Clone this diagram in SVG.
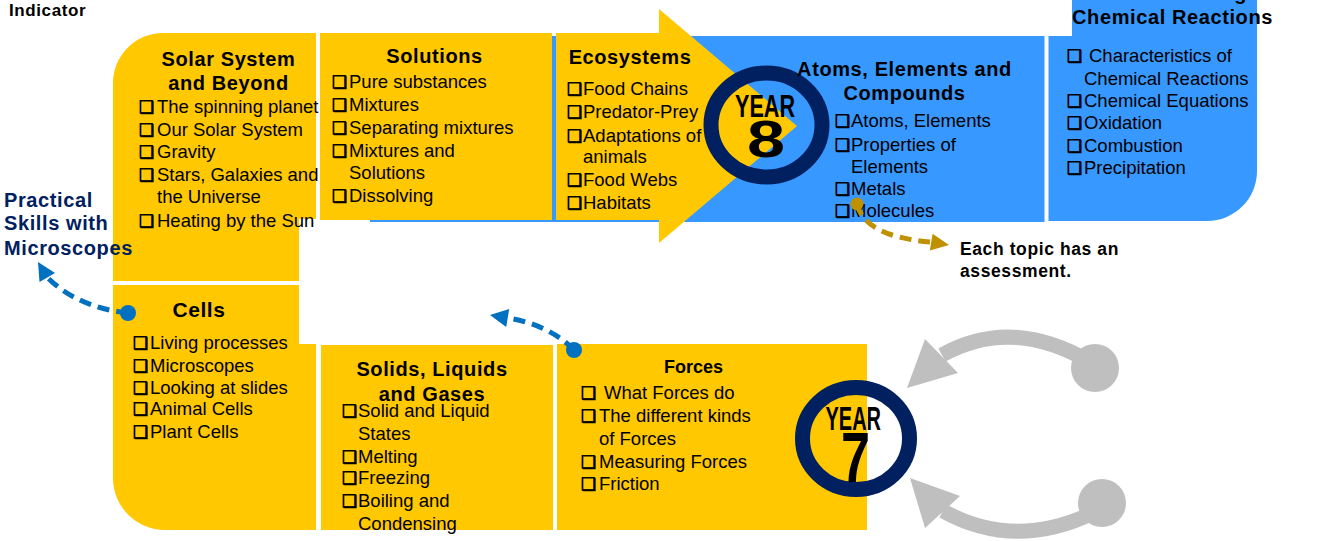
<svg xmlns="http://www.w3.org/2000/svg" width="1333" height="541" viewBox="0 0 1333 541">
<defs>
<style>
.y{fill:#FFC800}
.b{fill:#3799FF}
.t{font-family:"Liberation Sans",Arial,sans-serif;font-weight:bold;font-size:20px;letter-spacing:0.6px;fill:#000;text-anchor:middle}
.i{font-family:"Liberation Sans",Arial,sans-serif;font-size:18.5px;fill:#000}
.cb{font-family:"DejaVu Sans",sans-serif;font-size:17px;font-weight:bold;stroke:#000;stroke-width:0.8px}
.lbl{font-family:"Liberation Sans",Arial,sans-serif;font-weight:bold;font-size:17.5px;letter-spacing:0.6px;fill:#000}
.pr{font-family:"Liberation Sans",Arial,sans-serif;font-weight:bold;font-size:20px;letter-spacing:0.6px;fill:#002060}
.ring{fill:none;stroke:#002060;stroke-width:15}
.yr{font-family:"Liberation Sans",Arial,sans-serif;fill:#000}
.dash{fill:none;stroke-width:5;stroke-dasharray:12 7}
.gray{fill:none;stroke:#BFBFBF;stroke-width:15}
</style>
</defs>
<rect width="1333" height="541" fill="#fff"/>
<text class="lbl" x="9" y="16" style="font-size:17px">Indicator</text>

<g id="bg-blue">
<rect class="b" x="370" y="36" width="674.5" height="186"/>
</g>

<g id="chem">
<path class="b" d="M1072,0 H1257 V171 A50,50 0 0 1 1207,221 H1048.5 V36 H1072 Z"/>
<text class="t" x="1172.5" y="-0.5">Understanding</text>
<text class="t" x="1172.5" y="24">Chemical Reactions</text>
<text class="i" x="1067" y="62"><tspan class="cb">❑</tspan><tspan x="1089">Characteristics of</tspan></text>
<text class="i" x="1084" y="85">Chemical Reactions</text>
<text class="i" x="1067" y="107"><tspan class="cb">❑</tspan><tspan x="1084">Chemical Equations</tspan></text>
<text class="i" x="1067" y="129"><tspan class="cb">❑</tspan><tspan x="1084">Oxidation</tspan></text>
<text class="i" x="1067" y="152"><tspan class="cb">❑</tspan><tspan x="1084">Combustion</tspan></text>
<text class="i" x="1067" y="174"><tspan class="cb">❑</tspan><tspan x="1084">Precipitation</tspan></text>
</g>

<g id="solar">
<path class="y" d="M113,83 A50,50 0 0 1 163,33 H316 V219 H299 V281 H113 Z"/>
<text class="t" x="228.5" y="66">Solar System</text>
<text class="t" x="228.5" y="90">and Beyond</text>
<text class="i" x="139" y="113"><tspan class="cb">❑</tspan><tspan x="157">The spinning planet</tspan></text>
<text class="i" x="139" y="136"><tspan class="cb">❑</tspan><tspan x="157">Our Solar System</tspan></text>
<text class="i" x="139" y="158"><tspan class="cb">❑</tspan><tspan x="157">Gravity</tspan></text>
<text class="i" x="139" y="181"><tspan class="cb">❑</tspan><tspan x="157">Stars, Galaxies and</tspan></text>
<text class="i" x="157" y="203">the Universe</text>
<text class="i" x="139" y="227"><tspan class="cb">❑</tspan><tspan x="157">Heating by the Sun</tspan></text>
</g>

<g id="solutions">
<rect class="y" x="320" y="33" width="232" height="187"/>
<text class="t" x="434.5" y="63">Solutions</text>
<text class="i" x="332" y="88"><tspan class="cb">❑</tspan><tspan x="349">Pure substances</tspan></text>
<text class="i" x="332" y="111"><tspan class="cb">❑</tspan><tspan x="349">Mixtures</tspan></text>
<text class="i" x="332" y="134"><tspan class="cb">❑</tspan><tspan x="349">Separating mixtures</tspan></text>
<text class="i" x="332" y="157"><tspan class="cb">❑</tspan><tspan x="349">Mixtures and</tspan></text>
<text class="i" x="349" y="179">Solutions</text>
<text class="i" x="332" y="202"><tspan class="cb">❑</tspan><tspan x="349">Dissolving</tspan></text>
</g>

<g id="ecosystems">
<path class="y" d="M556,33 H659 V9 L797,126 L659,243 V220 H556 Z"/>
<text class="t" x="630" y="64">Ecosystems</text>
<text class="i" x="567" y="95"><tspan class="cb">❑</tspan><tspan x="583">Food Chains</tspan></text>
<text class="i" x="567" y="118"><tspan class="cb">❑</tspan><tspan x="583">Predator-Prey</tspan></text>
<text class="i" x="567" y="142"><tspan class="cb">❑</tspan><tspan x="583">Adaptations of</tspan></text>
<text class="i" x="583" y="163">animals</text>
<text class="i" x="567" y="186"><tspan class="cb">❑</tspan><tspan x="583">Food Webs</tspan></text>
<text class="i" x="567" y="209"><tspan class="cb">❑</tspan><tspan x="583">Habitats</tspan></text>
</g>

<g id="year8">
<ellipse class="ring" cx="766.5" cy="125" rx="55.5" ry="52"/>
<text class="yr" x="735" y="117" font-size="31" font-weight="bold" textLength="60" lengthAdjust="spacingAndGlyphs">YEAR</text>
<text class="yr" x="747" y="157" font-size="52" font-weight="bold" textLength="38" lengthAdjust="spacingAndGlyphs">8</text>
</g>

<g id="atoms">
<text class="t" x="904.5" y="76">Atoms, Elements and</text>
<text class="t" x="904.5" y="100">Compounds</text>
<text class="i" x="835" y="127"><tspan class="cb">❑</tspan><tspan x="851">Atoms, Elements</tspan></text>
<text class="i" x="835" y="151"><tspan class="cb">❑</tspan><tspan x="851">Properties of</tspan></text>
<text class="i" x="851" y="173">Elements</text>
<text class="i" x="835" y="195"><tspan class="cb">❑</tspan><tspan x="851">Metals</tspan></text>
<text class="i" x="835" y="217"><tspan class="cb">❑</tspan><tspan x="851">Molecules</tspan></text>
</g>

<g id="assessment-note">
<text class="lbl" x="960" y="255">Each topic has an</text>
<text class="lbl" x="960" y="277">assessment.</text>
</g>

<g id="practical">
<text class="pr" x="4" y="207">Practical</text>
<text class="pr" x="4" y="230">Skills with</text>
<text class="pr" x="4" y="255">Microscopes</text>
</g>

<g id="cells">
<path class="y" d="M113,285 H299 V344 H316 V530 H165 A52,52 0 0 1 113,478 Z"/>
<text class="t" x="199" y="317" style="font-size:21px">Cells</text>
<text class="i" x="133" y="349"><tspan class="cb">❑</tspan><tspan x="150">Living processes</tspan></text>
<text class="i" x="133" y="372"><tspan class="cb">❑</tspan><tspan x="150">Microscopes</tspan></text>
<text class="i" x="133" y="394"><tspan class="cb">❑</tspan><tspan x="150">Looking at slides</tspan></text>
<text class="i" x="133" y="415"><tspan class="cb">❑</tspan><tspan x="150">Animal Cells</tspan></text>
<text class="i" x="133" y="438"><tspan class="cb">❑</tspan><tspan x="150">Plant Cells</tspan></text>
</g>

<g id="solids">
<rect class="y" x="321" y="345" width="232" height="185"/>
<text class="t" x="432" y="376">Solids, Liquids</text>
<text class="t" x="432" y="401">and Gases</text>
<text class="i" x="342" y="417"><tspan class="cb">❑</tspan><tspan x="358">Solid and Liquid</tspan></text>
<text class="i" x="358" y="440">States</text>
<text class="i" x="342" y="463"><tspan class="cb">❑</tspan><tspan x="358">Melting</tspan></text>
<text class="i" x="342" y="484"><tspan class="cb">❑</tspan><tspan x="358">Freezing</tspan></text>
<text class="i" x="342" y="507"><tspan class="cb">❑</tspan><tspan x="358">Boiling and</tspan></text>
<text class="i" x="358" y="530">Condensing</text>
</g>

<g id="forces">
<rect class="y" x="557" y="344" width="310" height="186"/>
<text class="t" x="693.5" y="373" style="font-size:18px;letter-spacing:0">Forces</text>
<text class="i" x="581" y="399"><tspan class="cb">❑</tspan><tspan x="604">What Forces do</tspan></text>
<text class="i" x="581" y="422"><tspan class="cb">❑</tspan><tspan x="599">The different kinds</tspan></text>
<text class="i" x="599" y="445">of Forces</text>
<text class="i" x="581" y="468"><tspan class="cb">❑</tspan><tspan x="599">Measuring Forces</tspan></text>
<text class="i" x="581" y="490"><tspan class="cb">❑</tspan><tspan x="599">Friction</tspan></text>
</g>

<g id="year7">
<ellipse class="ring" cx="856" cy="438.5" rx="53.5" ry="51"/>
<text class="yr" x="825.5" y="430" font-size="34" font-weight="bold" textLength="55.5" lengthAdjust="spacingAndGlyphs">YEAR</text>
<text class="yr" x="841" y="482" font-size="70" font-weight="bold" textLength="29" lengthAdjust="spacingAndGlyphs">7</text>
</g>

<g id="connectors">
<path class="dash" stroke="#0070C0" d="M128,313 C100,310 70,300 48,278"/>
<circle cx="128" cy="313" r="8" fill="#0070C0"/>
<polygon fill="#0070C0" points="38,262 55,273 39.5,282"/>
<path class="dash" stroke="#0070C0" d="M574,350 C560,335 535,322 508,318"/>
<circle cx="574" cy="350" r="8" fill="#0070C0"/>
<polygon fill="#0070C0" points="490,315 509.2,309.1 506.2,326.9"/>
<path class="dash" stroke="#BF9000" d="M857,204 C862,225 885,238 930,242"/>
<circle cx="857" cy="204" r="6.5" fill="#BF9000"/>
<polygon fill="#BF9000" points="949,245 929.8,250.5 932.6,233.7"/>
<path class="gray" d="M1090,362 Q1012,316 942,355"/>
<circle cx="1095" cy="368" r="24" fill="#BFBFBF"/>
<polygon fill="#BFBFBF" points="907,388 925,339 958,373"/>
<path class="gray" d="M1095,512 Q1015,551 943,511"/>
<circle cx="1102" cy="503" r="24" fill="#BFBFBF"/>
<polygon fill="#BFBFBF" points="910,478 925,528 960,496"/>
</g>
</svg>
